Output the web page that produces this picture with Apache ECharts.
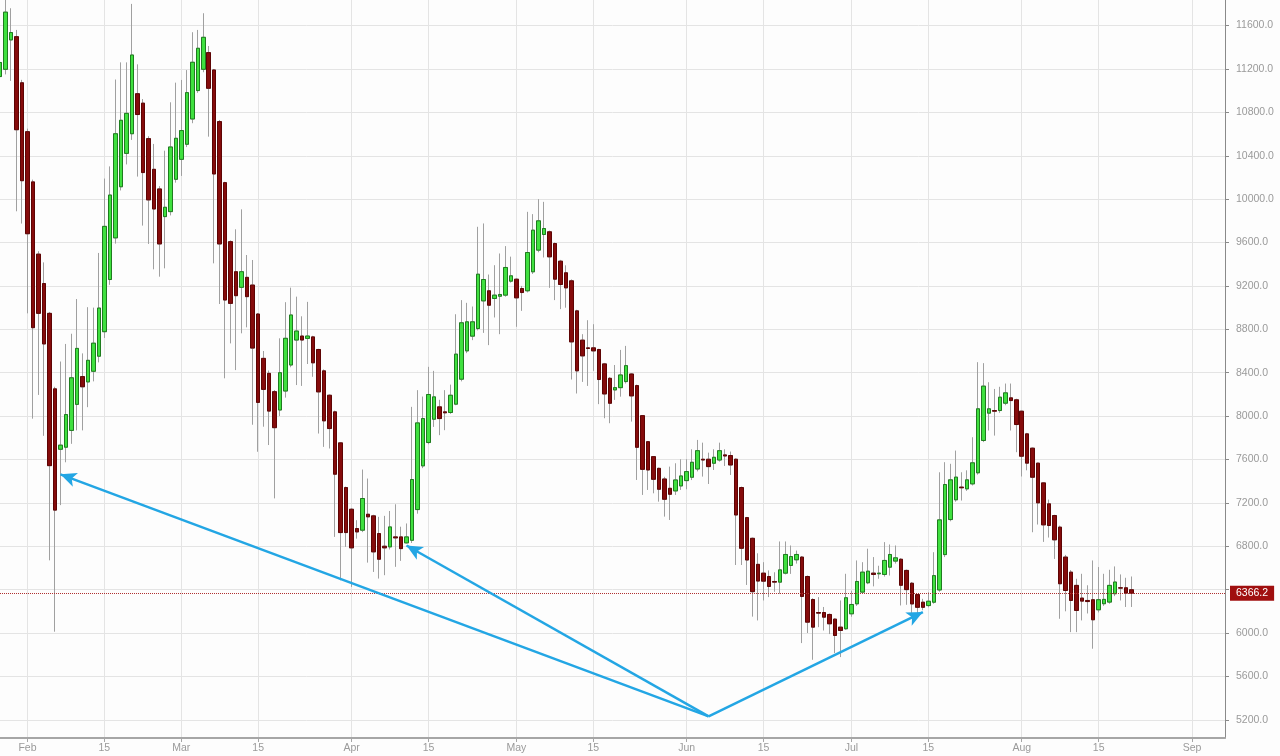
<!DOCTYPE html>
<html>
<head>
<meta charset="utf-8">
<script src="https://cdn.jsdelivr.net/npm/echarts@6/dist/echarts.min.js"></script>
<style>
html,body{margin:0;padding:0;background:#fdfdfd;}
#chart{width:1280px;height:756px;}
</style>
</head>
<body>
<div id="chart"></div>
<script>
// ---- axis / calendar ----
const startDate = [2018, 0, 27];   // 27 Jan 2018
const dayCount = 224;              // categories through 7 Sep 2018
const monthNames = ['Jan','Feb','Mar','Apr','May','Jun','Jul','Aug','Sep','Oct','Nov','Dec'];
const yTicks = [5200,5600,6000,6400,6800,7200,7600,8000,8400,8800,9200,9600,10000,10400,10800,11200,11600];

// ---- daily candles (27 Jan - 21 Aug 2018) ----
const opens = [11130,11197,11468,11498,11073,10622,10159,9493,9222,8947,8251,7694,7713,7868,8108,8364,8315,8413,8552,8778,
9259,9643,10114,10422,10603,10972,10885,10558,10275,10094,9839,9885,10183,10367,10506,10739,11001,11197,11351,11191,
10715,10152,9608,9331,9187,9279,9208,8941,8532,8394,8225,8056,8231,8471,8701,8738,8716,8730,8614,8417,
8192,8039,7753,7341,7141,6963,6948,7095,7080,6917,6800,6794,6886,6886,6831,6855,7138,7541,7756,7971,
8085,8039,8033,8110,8340,8601,8737,8807,9062,9155,9084,9105,9115,9244,9262,9176,9155,9330,9530,9674,
9699,9591,9428,9321,9247,8970,8700,8629,8629,8614,8481,8348,8241,8262,8318,8388,8281,8004,7764,7626,
7518,7420,7334,7310,7356,7405,7436,7512,7602,7602,7565,7595,7642,7636,7602,7341,7064,6873,6633,6552,
6521,6475,6469,6552,6623,6675,6700,6521,6309,6189,6189,6171,6128,6054,6039,6177,6269,6377,6463,6552,
6546,6540,6607,6663,6680,6577,6459,6354,6284,6253,6284,6397,6723,7046,7228,7345,7329,7375,7477,7775,
8027,8051,8051,8119,8168,8150,8045,7836,7704,7566,7384,7191,7083,6976,6700,6561,6439,6322,6300,6307,
6214,6270,6285,6362,6417,6417,6399];
const closes = [11260,11724,11536,10640,10170,9681,8815,8947,8665,7543,7133,7732,8014,8353,8624,8270,8514,8672,8996,9749,
10038,10603,10727,10791,11329,10780,10245,9993,9909,9587,9925,10481,10561,10632,10982,11262,11391,11492,11022,10232,
9587,9070,9039,9110,9331,9101,8627,8126,8246,8046,7893,8400,8717,8932,8784,8701,8738,8491,8223,7956,
7885,7464,6926,6926,6785,6932,7240,7071,6748,6680,6785,6978,6877,6778,6886,7415,7937,7977,8199,8177,
7977,8030,8192,8571,8860,8869,8869,9308,9259,9022,9115,9121,9370,9293,9090,9139,9508,9714,9800,9729,
9468,9262,9213,9182,8684,8417,8555,8623,8601,8337,8204,8118,8262,8379,8465,8186,7712,7509,7503,7417,
7325,7233,7279,7411,7448,7488,7574,7681,7595,7534,7620,7681,7632,7549,7088,6781,6673,6381,6479,6478,
6429,6469,6582,6724,6705,6724,6337,6100,6054,6183,6146,6085,5977,6023,6325,6263,6475,6561,6570,6540,
6552,6669,6724,6693,6440,6400,6268,6237,6237,6293,6529,7043,7369,7412,7437,7339,7412,7569,8067,8276,
8067,8045,8174,8214,8143,7922,7630,7566,7436,7200,6997,6991,6859,6454,6392,6300,6208,6294,6290,6122,
6307,6310,6439,6470,6414,6368,6366.2];
const lows = [11050,11150,11090,9888,9775,8947,7976,8195,7818,6670,6012,7179,7574,7744,7868,7868,8082,8320,8495,8720,
9210,9590,10080,10320,10546,10208,9756,9587,9353,9285,9362,9850,10152,10214,10480,10700,10980,11170,10576,9408,
9033,8348,8670,8424,8763,8818,7920,7671,7902,7733,7241,8000,8170,8450,8286,8278,8480,8362,7839,7716,
7701,6886,6486,6794,6425,6870,6930,6649,6563,6502,6533,6770,6610,6665,6825,6830,7100,7520,7740,7900,
7824,7870,8020,8100,8320,8580,8700,8790,8767,8654,8909,8755,9100,9230,8823,8970,9140,9310,9510,9462,
9182,9069,8986,8999,8337,8208,8315,8278,8417,8110,7980,7934,8149,8179,8300,7949,7411,7273,7319,7288,
7211,7073,7042,7273,7319,7325,7410,7490,7442,7374,7503,7580,7540,7457,6627,6627,6443,6151,6116,6300,
6331,6380,6362,6540,6545,6640,5907,6000,5753,6054,6023,5990,5815,5778,6030,6150,6250,6360,6450,6430,
6500,6520,6530,6640,6254,6260,6146,6176,6210,6237,6270,6380,6700,7030,7210,7221,7310,7360,7460,7760,
7867,7820,8030,8100,7867,7667,7443,7500,6929,7000,6840,6880,6683,6131,6200,6008,6008,6116,6180,5855,
6190,6250,6270,6340,6300,6240,6240];
const highs = [11330,11850,11760,11560,11100,10650,10180,9520,9417,8960,8270,8503,8665,8759,9079,8578,9004,9000,9504,10190,
10302,11103,11261,11261,11800,11243,10923,10580,10509,10120,10447,10893,11074,11099,11190,11539,11560,11714,11412,11200,
10730,10160,9620,9722,9906,9485,9439,8950,8600,8420,8240,8717,9050,9184,9101,8920,9053,8740,8620,8430,
8200,8050,7760,7350,7150,7040,7507,7424,7090,7071,7080,7125,7187,6980,7010,8085,8239,8180,8454,8417,
8150,8239,8290,8939,9069,9044,9010,9745,9776,9305,9391,9499,9567,9470,9270,9200,9883,9862,10000,9975,
9710,9600,9440,9390,9260,8980,8755,8884,8847,8620,8490,8360,8471,8610,8647,8395,8290,8010,7770,7630,
7525,7440,7534,7565,7602,7602,7694,7780,7755,7663,7694,7755,7694,7673,7610,7350,7070,6880,6735,6653,
6577,6560,6844,6844,6807,6760,6710,6530,6320,6331,6240,6180,6135,6300,6546,6390,6669,6653,6777,6700,
6620,6838,6816,6807,6690,6585,6470,6360,6315,6376,6745,7482,7575,7560,7682,7482,7500,7805,8497,8488,
8312,8250,8270,8300,8300,8160,8050,7845,7710,7570,7390,7230,7090,6990,6720,6580,6500,6546,6440,6669,
6608,6546,6583,6614,6540,6509,6521];

// ---- annotations ----
const lastPrice = 6366.2;
const arrowApex = ['2018-06-05', 5231];
const arrowTargets = [['2018-02-07', 7463], ['2018-04-11', 6807], ['2018-07-14', 6193]];

// ---- build categories ----
function pad(n){ return (n < 10 ? '0' : '') + n; }
const dates = [];
for (let i = 0; i < dayCount; i++) {
  const d = new Date(Date.UTC(startDate[0], startDate[1], startDate[2] + i));
  dates.push(d.getUTCFullYear() + '-' + pad(d.getUTCMonth() + 1) + '-' + pad(d.getUTCDate()));
}
function isLabelDay(idx, val) {
  const day = +String(val).slice(8, 10);
  return day === 1 || day === 15;
}
function dateLabel(val) {
  const day = +String(val).slice(8, 10);
  const m = +String(val).slice(5, 7);
  return day === 1 ? monthNames[m - 1] : '15';
}

// labels hidden where the last-price badge sits on top of them
const yLabelValues = yTicks.filter(v => Math.abs(v - lastPrice) > 60);

const wickData = opens.map((o, i) => [o, closes[i], lows[i], highs[i]]);
const bodyData = opens.map((o, i) => [o, closes[i], Math.min(o, closes[i]), Math.max(o, closes[i])]);

const arrowLines = arrowTargets.map(t => [
  { coord: arrowApex, symbol: 'none', lineStyle: { color: '#23a6e4', width: 2.5, type: 'solid' }, label: { show: false } },
  { coord: t, symbol: 'arrow', symbolSize: [11, 16] }
]);

const FONT = 'Liberation Sans, Arial, sans-serif';
const chart = echarts.init(document.getElementById('chart'), null, { renderer: 'canvas' });
chart.setOption({
  animation: false,
  backgroundColor: '#fdfdfd',
  textStyle: { fontFamily: FONT },
  grid: { left: 0, right: 55, top: 0, bottom: 18, containLabel: false },
  xAxis: {
    type: 'category',
    data: dates,
    boundaryGap: false,
    axisLine: { lineStyle: { color: '#a6a6a6', width: 2 } },
    axisTick: { show: true, interval: isLabelDay, length: 4, lineStyle: { color: '#a6a6a6' } },
    axisLabel: { interval: isLabelDay, formatter: dateLabel, color: '#9a9a9a', fontSize: 10.5, margin: 5, fontFamily: FONT },
    splitLine: { show: true, interval: isLabelDay, lineStyle: { color: '#e4e4e4', width: 1 } }
  },
  yAxis: {
    type: 'value',
    position: 'right',
    min: 5032,
    max: 11836,
    axisLine: { show: true, lineStyle: { color: '#8a8a8a', width: 1 } },
    axisTick: { show: true, customValues: yTicks, length: 4, lineStyle: { color: '#8a8a8a' } },
    axisLabel: { customValues: yLabelValues, formatter: v => Number(v).toFixed(1), color: '#9a9a9a', fontSize: 10.5, margin: 11, padding: [2, 0, 0, 0], fontFamily: FONT },
    splitLine: { show: true, lineStyle: { color: '#e4e4e4', width: 1 } }
  },
  series: [
    {
      type: 'candlestick',
      name: 'wicks',
      data: wickData,
      barWidth: 4,
      silent: true,
      itemStyle: { color: '#a0a0a0', color0: '#a0a0a0', borderColor: '#a0a0a0', borderColor0: '#a0a0a0', borderWidth: 1 }
    },
    {
      type: 'candlestick',
      name: 'bodies',
      data: bodyData,
      barWidth: 4,
      silent: true,
      itemStyle: { color: '#3fe03f', color0: '#850b0b', borderColor: '#1e7d1e', borderColor0: '#5e0404', borderWidth: 1 },
      markLine: {
        silent: true,
        animation: false,
        symbol: 'none',
        data: [
          {
            yAxis: lastPrice,
            symbol: 'none',
            lineStyle: { type: 'dotted', color: '#b03030', width: 1 },
            label: {
              show: true, position: 'end', formatter: lastPrice.toFixed(1), distance: 5,
              color: '#ffffff', backgroundColor: '#a00f0f', padding: [2, 6, 1, 6],
              fontSize: 10.5, lineHeight: 12, fontFamily: FONT
            }
          }
        ].concat(arrowLines)
      }
    }
  ]
});
</script>
</body>
</html>
